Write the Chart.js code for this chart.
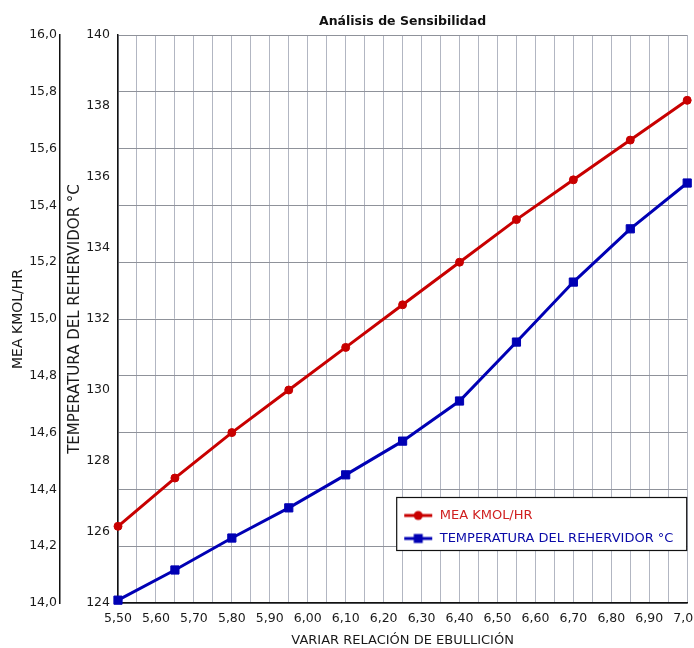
<!DOCTYPE html>
<html>
<head>
<meta charset="utf-8">
<script src="https://cdn.jsdelivr.net/npm/chart.js@4.4.1/dist/chart.umd.min.js"></script>
<style>
  html, body { margin: 0; padding: 0; background: #fff; }
</style>
</head>
<body>
<canvas id="myChart" width="694" height="648"></canvas>
<script>
// datos
const relacion = [5.50, 5.65, 5.80, 5.95, 6.10, 6.25, 6.40, 6.55, 6.70, 6.85, 7.00];
const meaKmol = [14.27, 14.44, 14.60, 14.75, 14.90, 15.05, 15.20, 15.35, 15.49, 15.63, 15.77];
const tempReherv = [124.08, 124.93, 125.83, 126.68, 127.61, 128.56, 129.69, 131.35, 133.04, 134.54, 135.83];
const seriesNames = ["MEA KMOL/HR", "TEMPERATURA DEL REHERVIDOR °C"];
const meaTicks = [14.0, 14.2, 14.4, 14.6, 14.8, 15.0, 15.2, 15.4, 15.6, 15.8, 16.0];
const tempTicks = [124, 126, 128, 130, 132, 134, 136, 138, 140];

const font = "'DejaVu Sans', 'Liberation Sans', sans-serif";
const red = "#c80000";
const blue = "#0000b4";
const legendTextColors = ["#d02020", "#0a0aa8"];

// turn "5.5" into "5,50"
function comma(v, d) {
  return v.toFixed(d).replace(".", ",");
}

// little line + marker icons for the legend
function makeIcon(color, style) {
  let c = document.createElement("canvas");
  c.width = 30; c.height = 12;
  let g = c.getContext("2d");
  g.strokeStyle = color; g.lineWidth = 3;
  g.beginPath(); g.moveTo(1, 6); g.lineTo(29, 6); g.stroke();
  g.fillStyle = color;
  if (style === "circle") {
    g.beginPath(); g.arc(15, 6, 4.5, 0, Math.PI * 2); g.fill();
  } else {
    g.fillRect(10.5, 1.5, 9, 9);
  }
  return c;
}
const icons = [makeIcon(red, "circle"), makeIcon(blue, "rect")];

// move legend inside the plot (bottom right) and draw its frame
const legendBox = {
  id: "legendBox",
  beforeLayout(chart) {
    let lg = chart.legend;
    if (!lg) return;
    lg._layers = () => [{
      z: 10,
      draw: (area) => {
        let ca = chart.chartArea, ctx = chart.ctx;
        let x = ca.right - 291, y = ca.bottom - 106;
        ctx.save();
        ctx.fillStyle = "#ffffff";
        ctx.fillRect(x, y, 290, 53);
        ctx.strokeStyle = "#111";
        ctx.lineWidth = 1.2;
        ctx.strokeRect(x + 0.5, y + 0.5, 290, 53);
        ctx.restore();
        lg.draw(area);
      }
    }];
  },
  afterLayout(chart) {
    let lg = chart.legend, ca = chart.chartArea;
    lg.left = ca.right - 294;
    lg.top = ca.bottom - 106;
    lg.right = lg.left + 300;
    lg.bottom = lg.top + 60;
    lg.width = 300;
    lg.height = 60;
  }
};

let ctx = document.getElementById("myChart").getContext("2d");
let myChart = new Chart(ctx, {
  type: "line",
  data: {
    datasets: [{
      label: seriesNames[0],
      data: relacion.map((x, i) => ({ x: x, y: meaKmol[i] })),
      yAxisID: "yMea",
      borderColor: red,
      backgroundColor: red,
      borderWidth: 3,
      pointStyle: "circle",
      pointRadius: 4,
      pointBorderWidth: 1,
      pointHoverRadius: 4,
      clip: false
    }, {
      label: seriesNames[1],
      data: relacion.map((x, i) => ({ x: x, y: tempReherv[i] })),
      yAxisID: "yTemp",
      borderColor: blue,
      backgroundColor: blue,
      borderWidth: 3,
      pointStyle: "rect",
      pointRadius: 5.8,
      pointBorderWidth: 1,
      pointHoverRadius: 5.8,
      clip: false
    }]
  },
  options: {
    responsive: false,
    animation: false,
    layout: { padding: { right: 5, left: 0, top: 0, bottom: 0 } },
    plugins: {
      title: {
        display: true,
        text: "Análisis de Sensibilidad",
        fullSize: false,
        color: "#111",
        font: { family: font, size: 12.5, weight: "bold" },
        padding: { top: 14, bottom: 6 }
      },
      legend: {
        position: "chartArea",
        labels: {
          usePointStyle: true,
          pointStyleWidth: 30,
          padding: 10,
          font: { family: font, size: 13 },
          generateLabels: (chart) => chart.data.datasets.map((ds, i) => ({
            text: ds.label,
            fillStyle: ds.borderColor,
            strokeStyle: ds.borderColor,
            fontColor: legendTextColors[i],
            pointStyle: icons[i],
            lineWidth: 0,
            hidden: false,
            datasetIndex: i
          }))
        }
      },
      tooltip: { enabled: false }
    },
    scales: {
      x: {
        type: "linear",
        min: 5.5,
        max: 7.0,
        afterFit: (s) => { s.height = 45; s.paddingRight = 0; },
        ticks: {
          stepSize: 0.05,
          autoSkip: false,
          maxRotation: 0,
          padding: 8,
          color: "#1a1a1a",
          font: { family: font, size: 12.5 },
          callback: (v) => Math.round(v * 100) % 10 === 0 ? comma(v, 2) : ""
        },
        grid: { color: "#b2b6c2", lineWidth: 1, drawTicks: false },
        border: { color: "#111", width: 1.5 },
        title: {
          display: true,
          text: "VARIAR RELACIÓN DE EBULLICIÓN",
          color: "#1a1a1a",
          font: { family: font, size: 13 },
          padding: { top: 2, bottom: 0 }
        }
      },
      yMea: {
        type: "linear",
        position: "left",
        weight: 2,
        min: 14,
        max: 16,
        afterFit: (s) => { s.width = 60; },
        afterBuildTicks: (s) => { s.ticks = meaTicks.map(v => ({ value: v })); },
        ticks: {
          padding: 3,
          color: "#1a1a1a",
          font: { family: font, size: 12.5 },
          callback: (v) => comma(v, 1)
        },
        grid: { color: "#8f929a", lineWidth: 1, drawTicks: false },
        border: { color: "#111", width: 1.5 },
        title: {
          display: true,
          text: seriesNames[0],
          color: "#1a1a1a",
          font: { family: font, size: 14 },
          padding: { top: 10, bottom: 0 }
        }
      },
      yTemp: {
        type: "linear",
        position: "left",
        weight: 1,
        min: 124,
        max: 140,
        afterFit: (s) => { s.width = 58; },
        afterBuildTicks: (s) => { s.ticks = tempTicks.map(v => ({ value: v })); },
        ticks: {
          padding: 8,
          color: "#1a1a1a",
          font: { family: font, size: 12.5 },
          callback: (v) => String(v)
        },
        grid: { display: true, drawOnChartArea: false, drawTicks: false },
        border: { color: "#111", width: 1.5 },
        title: {
          display: true,
          text: seriesNames[1],
          color: "#1a1a1a",
          font: { family: font, size: 15 },
          padding: { top: 6, bottom: 0 }
        }
      }
    }
  },
  plugins: [legendBox]
});
</script>
</body>
</html>
